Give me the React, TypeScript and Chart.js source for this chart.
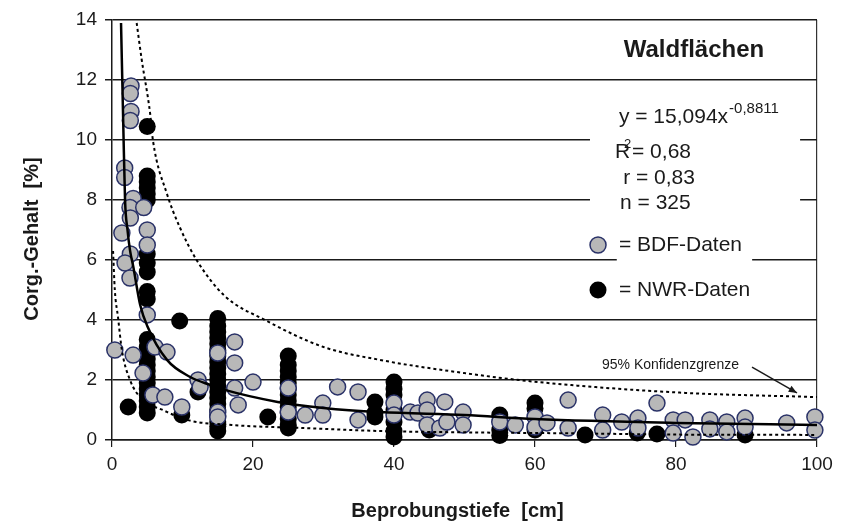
import React, { useEffect, useRef } from "react";
import { Chart, registerables } from "chart.js";

Chart.register(...registerables);

// ---------- data ----------
const xTickValues = [0, 20, 40, 60, 80, 100];
const yTickValues = [0, 2, 4, 6, 8, 10, 12, 14];

const bdfX = [2.7, 2.6, 2.7, 2.6, 1.8, 1.8, 3.0, 2.55, 4.5, 2.6, 1.4, 5, 5, 2.6, 1.85, 2.55, 5, 0.4, 3.0, 6.1, 7.8, 4.4, 5.8, 7.5, 9.9, 12.2, 12.5, 15, 15, 15, 17.4, 17.4, 17.4, 17.9, 20, 25, 25, 27.4, 29.9, 29.9, 32, 34.9, 34.9, 40, 40, 42.3, 43.4, 44.7, 44.7, 44.7, 47.2, 46.5, 47.5, 49.8, 49.8, 55, 57.2, 60, 60, 61.7, 64.7, 64.7, 69.6, 69.6, 72.3, 74.6, 74.6, 77.3, 79.6, 79.6, 81.3, 82.4, 84.8, 84.8, 87.2, 87.2, 89.8, 89.8, 95.7, 99.7, 99.7];
const bdfY = [11.8, 11.55, 10.95, 10.65, 9.07, 8.75, 8.05, 7.75, 7.75, 7.4, 6.9, 7.0, 6.5, 6.2, 5.9, 5.4, 4.17, 3.0, 2.83, 3.1, 2.93, 2.23, 1.5, 1.43, 1.1, 2.0, 1.77, 2.9, 0.93, 0.77, 3.27, 2.57, 1.73, 1.17, 1.93, 1.73, 0.93, 0.83, 1.23, 0.83, 1.77, 1.6, 0.67, 1.23, 0.83, 0.93, 0.9, 1.33, 1.0, 0.5, 1.27, 0.4, 0.6, 0.93, 0.5, 0.6, 0.5, 0.77, 0.43, 0.57, 1.33, 0.4, 0.83, 0.33, 0.6, 0.73, 0.4, 1.23, 0.67, 0.23, 0.67, 0.1, 0.67, 0.37, 0.6, 0.27, 0.73, 0.43, 0.57, 0.77, 0.33];

const nwrX = [5, 5, 5, 5, 5, 5, 5, 5, 5, 5, 5, 5, 5, 5, 5, 5, 5, 5, 5, 5, 5, 5, 5, 5, 2.3, 9.6, 9.9, 12.2, 15, 15, 15, 15, 15, 15, 15, 15, 15, 15, 15, 15, 15, 15, 15, 15, 15, 15, 15, 15, 22.1, 25, 25, 25, 25, 25, 25, 25, 25, 25, 25, 25, 25, 25, 37.3, 37.3, 37.3, 40, 40, 40, 40, 40, 40, 40, 45, 55, 55, 55, 60, 60, 60, 67.1, 74.5, 77.3, 89.8];
const nwrY = [10.45, 8.8, 8.6, 8.4, 8.2, 8.0, 6.2, 5.9, 5.6, 4.95, 4.7, 3.35, 3.1, 2.9, 2.7, 2.5, 2.3, 2.1, 1.9, 1.7, 1.5, 1.3, 1.1, 0.9, 1.1, 3.97, 0.83, 1.6, 4.05, 3.8, 3.6, 3.4, 3.2, 3.0, 2.8, 2.6, 2.4, 2.2, 2.0, 1.8, 1.6, 1.4, 1.2, 1.0, 0.8, 0.6, 0.45, 0.3, 0.77, 2.8, 2.5, 2.3, 2.1, 1.9, 1.7, 1.5, 1.3, 1.1, 0.9, 0.7, 0.5, 0.4, 1.27, 0.9, 0.77, 1.93, 1.7, 1.5, 1.0, 0.6, 0.3, 0.1, 0.33, 0.83, 0.33, 0.15, 1.23, 1.05, 0.33, 0.17, 0.23, 0.2, 0.17];

// regression curve
const fitX = [1.28, 1.6, 1.85, 2.2, 2.55, 3.0, 4.0, 5, 7.8, 11.1, 14, 16, 23.5, 30, 38, 50, 60, 80, 100];
const fitY = [13.9, 10.5, 8.0, 7.0, 6.33, 5.8, 4.5, 3.8, 2.67, 2.1, 1.83, 1.67, 1.27, 1.07, 0.93, 0.83, 0.7, 0.57, 0.5];

// 95% confidence limits
const upperX = [3.5, 4.2, 5.4, 5.8, 7.8, 9.6, 12, 16, 21.7, 30, 38, 50, 60.5, 80.5, 100];
const upperY = [13.9, 12.7, 10.9, 10.0, 8.2, 7.1, 6.0, 4.8, 4.0, 3.1, 2.67, 2.23, 1.93, 1.58, 1.43];
const lowerX = [0.15, 0.4, 0.85, 1.4, 2.55, 4.4, 7.2, 10.6, 17, 27, 38, 52, 66, 80, 100];
const lowerY = [6.3, 5.0, 4.1, 3.0, 2.0, 1.33, 1.0, 0.67, 0.5, 0.4, 0.3, 0.25, 0.22, 0.18, 0.17];

const titleText = "Waldflächen";
const eqMain = "y = 15,094x";
const eqExp = "-0,8811";
const r2Text = "= 0,68";
const rText = "r = 0,83";
const nText = "n = 325";
const bdfLabel = "= BDF-Daten";
const nwrLabel = "= NWR-Daten";
const confLabel = "95% Konfidenzgrenze";
const xTitle = "Beprobungstiefe  [cm]";
const yTitle = "Corg.-Gehalt  [%]";

const FONT = "'Liberation Sans', Arial, sans-serif";
const INK = "#1a1a1a";
const GREY = "#b8b8b8";
const NAVY = "#2a3268";

const pts = (xs: number[], ys: number[]) => xs.map((x, i) => ({ x, y: ys[i] }));

const annotationPlugin = {
  id: "annot",
  beforeDatasetsDraw(chart: any) {
    const { ctx, scales } = chart;
    const X = (v: number) => scales.x.getPixelForValue(v);
    const Y = (v: number) => scales.y.getPixelForValue(v);
    ctx.save();
    ctx.fillStyle = "#ffffff";
    ctx.fillRect(X(67.8), Y(10.27), X(97.6) - X(67.8), Y(7.73) - Y(10.27));
    ctx.fillRect(X(71.6), Y(6.17), X(90.8) - X(71.6), Y(5.83) - Y(6.17));
    ctx.restore();
  },
  afterDraw(chart: any) {
    const { ctx, scales, chartArea } = chart;
    const X = (v: number) => scales.x.getPixelForValue(v);
    const Y = (v: number) => scales.y.getPixelForValue(v);
    ctx.save();
    ctx.fillStyle = INK;
    ctx.textBaseline = "middle";

    // title
    ctx.font = `bold 24px ${FONT}`;
    ctx.textAlign = "center";
    ctx.fillText(titleText, X(82.55), Y(13.0));

    // equation
    ctx.textAlign = "left";
    ctx.font = `21px ${FONT}`;
    ctx.fillText(eqMain, X(71.9), Y(10.77));
    const w = ctx.measureText(eqMain).width;
    ctx.font = `15px ${FONT}`;
    ctx.fillText(eqExp, X(71.9) + w + 1, Y(11.05));

    ctx.font = `21px ${FONT}`;
    ctx.fillText("R", X(71.35), Y(9.6));
    ctx.font = `13px ${FONT}`;
    ctx.fillText("2", X(71.35) + 9, Y(9.85));
    ctx.font = `21px ${FONT}`;
    ctx.fillText(r2Text, X(71.35) + 17, Y(9.6));
    ctx.fillText(rText, X(72.5), Y(8.73));
    ctx.fillText(nText, X(72.06), Y(7.9));

    // legend
    ctx.lineWidth = 1.5;
    ctx.beginPath();
    ctx.arc(X(68.94), Y(6.5), 8, 0, Math.PI * 2);
    ctx.fillStyle = GREY;
    ctx.fill();
    ctx.strokeStyle = NAVY;
    ctx.stroke();
    ctx.beginPath();
    ctx.arc(X(68.94), Y(5.0), 8.5, 0, Math.PI * 2);
    ctx.fillStyle = "#000";
    ctx.fill();
    ctx.fillStyle = INK;
    ctx.font = `21px ${FONT}`;
    ctx.fillText(bdfLabel, X(71.9), Y(6.5));
    ctx.fillText(nwrLabel, X(71.9), Y(5.0));

    // confidence label + arrow
    ctx.font = `14px ${FONT}`;
    ctx.fillText(confLabel, X(69.5), Y(2.5));
    const ax0 = X(90.78), ay0 = Y(2.43), ax1 = X(97.16), ay1 = Y(1.57);
    ctx.strokeStyle = INK;
    ctx.lineWidth = 1.5;
    ctx.beginPath();
    ctx.moveTo(ax0, ay0);
    ctx.lineTo(ax1, ay1);
    ctx.stroke();
    const ang = Math.atan2(ay1 - ay0, ax1 - ax0);
    ctx.beginPath();
    ctx.moveTo(ax1, ay1);
    ctx.lineTo(ax1 - 9 * Math.cos(ang - 0.4), ay1 - 9 * Math.sin(ang - 0.4));
    ctx.lineTo(ax1 - 9 * Math.cos(ang + 0.4), ay1 - 9 * Math.sin(ang + 0.4));
    ctx.closePath();
    ctx.fillStyle = INK;
    ctx.fill();

    // axis titles
    ctx.font = `bold 20px ${FONT}`;
    ctx.textAlign = "center";
    ctx.fillText(xTitle, chartArea.left + (chartArea.right - chartArea.left) * 0.49, 511);
    ctx.translate(32, (chartArea.top + chartArea.bottom) / 2 + 9);
    ctx.rotate(-Math.PI / 2);
    ctx.fillText(yTitle, 0, 0);
    ctx.restore();
  },
};

export default function App() {
  const ref = useRef<HTMLCanvasElement | null>(null);
  useEffect(() => {
    if (!ref.current) return;
    const lineBase = {
      type: "line" as const,
      pointRadius: 0,
      borderColor: "#000",
      fill: false,
      cubicInterpolationMode: "monotone" as const,
    };
    const chart = new Chart(ref.current, {
      type: "scatter",
      data: {
        datasets: [
          { ...lineBase, label: "fit", data: pts(fitX, fitY), borderWidth: 2.5, order: 0 },
          { ...lineBase, label: "upper", data: pts(upperX, upperY), borderWidth: 2, borderDash: [3, 3], order: 1 },
          { ...lineBase, label: "lower", data: pts(lowerX, lowerY), borderWidth: 2, borderDash: [3, 3], order: 1 },
          {
            label: "BDF-Daten",
            data: pts(bdfX, bdfY),
            pointRadius: 8,
            backgroundColor: GREY,
            borderColor: NAVY,
            borderWidth: 1.5,
            clip: false,
            order: 2,
          },
          {
            label: "NWR-Daten",
            data: pts(nwrX, nwrY),
            pointRadius: 8.5,
            backgroundColor: "#000",
            borderColor: "#000",
            borderWidth: 0,
            clip: false,
            order: 3,
          },
        ] as any,
      },
      options: {
        responsive: false,
        animation: false,
        devicePixelRatio: 1,
        layout: { padding: { top: 20, right: 30, left: 0, bottom: 0 } },
        plugins: { legend: { display: false }, tooltip: { enabled: false } },
        scales: {
          x: {
            type: "linear",
            min: 0,
            max: 100,
            afterBuildTicks: (s: any) => {
              s.ticks = xTickValues.map((v) => ({ value: v }));
            },
            afterFit: (s: any) => {
              s.height = 87;
            },
            ticks: { color: INK, font: { family: FONT, size: 19 }, padding: 6, maxRotation: 0 },
            grid: {
              color: (c: any) => (c.tick && c.tick.value === 100 ? "#333" : "rgba(0,0,0,0)"),
              lineWidth: 1.2,
              tickColor: INK,
              tickLength: 7,
              drawTicks: true,
            },
            border: { display: true, color: INK, width: 1.5 },
          },
          y: {
            type: "linear",
            min: 0,
            max: 14,
            afterBuildTicks: (s: any) => {
              s.ticks = yTickValues.map((v) => ({ value: v }));
            },
            afterFit: (s: any) => {
              s.width = 112;
            },
            ticks: { color: INK, font: { family: FONT, size: 19 }, padding: 8 },
            grid: { color: INK, lineWidth: 1.5, tickColor: INK, tickLength: 7, drawTicks: true },
            border: { display: true, color: INK, width: 1.5 },
          },
        },
      } as any,
      plugins: [annotationPlugin],
    });
    return () => chart.destroy();
  }, []);
  return (
    <div style={{ position: "absolute", left: 0, top: 0, width: 847, height: 527, background: "#fff" }}>
      <canvas ref={ref} width={847} height={527} style={{ width: 847, height: 527 }} />
    </div>
  );
}
